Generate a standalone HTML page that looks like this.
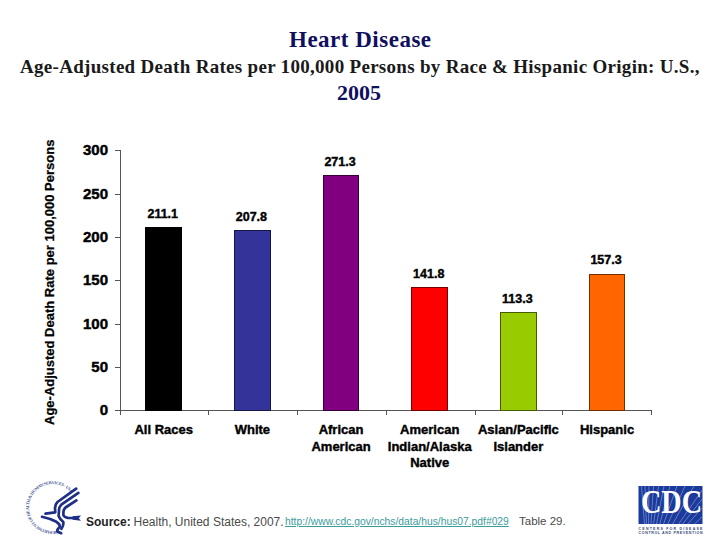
<!DOCTYPE html>
<html>
<head>
<meta charset="utf-8">
<style>
html,body{margin:0;padding:0;background:#fff;}
body{width:720px;height:540px;position:relative;overflow:hidden;font-family:"Liberation Sans",sans-serif;}
.a{position:absolute;white-space:nowrap;}
.t1{font-family:"Liberation Serif",serif;font-weight:bold;color:#10105e;}
.sub{font-family:"Liberation Serif",serif;font-weight:bold;color:#1a1a1a;}
.yl{-webkit-text-stroke:0.45px #000;font-weight:bold;font-size:15px;line-height:18px;color:#000;text-align:right;width:40px;}
.vl{-webkit-text-stroke:0.4px #000;font-weight:bold;font-size:12.5px;line-height:14px;color:#000;text-align:center;width:80px;}
.xl{-webkit-text-stroke:0.4px #000;font-weight:bold;font-size:13px;color:#000;text-align:center;width:88px;line-height:16.5px;}
.bar{position:absolute;box-sizing:border-box;border:1px solid rgba(0,0,0,0.55);}
.ln{position:absolute;background:#555;}
.src{font-size:12px;color:#333;}
</style>
</head>
<body>
<div class="a t1" style="left:289px;top:27px;font-size:23px;line-height:26px;letter-spacing:0.5px;">Heart Disease</div>
<div class="a sub" style="left:20px;top:56px;font-size:19px;line-height:21px;letter-spacing:0.3px;">Age-Adjusted Death Rates per 100,000 Persons by Race &amp; Hispanic Origin: U.S.,</div>
<div class="a t1" style="left:337px;top:80px;font-size:22px;line-height:26px;">2005</div>
<div class="ln" style="left:120px;top:150px;width:1px;height:265px;"></div>
<div class="ln" style="left:120px;top:410px;width:531px;height:1px;"></div>
<div class="ln" style="left:115px;top:410.00px;width:5px;height:1px;"></div>
<div class="a yl" style="left:68px;top:401.00px;">0</div>
<div class="ln" style="left:115px;top:367.00px;width:5px;height:1px;"></div>
<div class="a yl" style="left:68px;top:358.00px;">50</div>
<div class="ln" style="left:115px;top:324.00px;width:5px;height:1px;"></div>
<div class="a yl" style="left:68px;top:315.00px;">100</div>
<div class="ln" style="left:115px;top:280.00px;width:5px;height:1px;"></div>
<div class="a yl" style="left:68px;top:271.00px;">150</div>
<div class="ln" style="left:115px;top:237.00px;width:5px;height:1px;"></div>
<div class="a yl" style="left:68px;top:228.00px;">200</div>
<div class="ln" style="left:115px;top:194.00px;width:5px;height:1px;"></div>
<div class="a yl" style="left:68px;top:185.00px;">250</div>
<div class="ln" style="left:115px;top:150.00px;width:5px;height:1px;"></div>
<div class="a yl" style="left:68px;top:141.00px;">300</div>
<div class="ln" style="left:120.00px;top:410px;width:1px;height:5px;"></div>
<div class="ln" style="left:208.00px;top:410px;width:1px;height:5px;"></div>
<div class="ln" style="left:297.00px;top:410px;width:1px;height:5px;"></div>
<div class="ln" style="left:386.00px;top:410px;width:1px;height:5px;"></div>
<div class="ln" style="left:475.00px;top:410px;width:1px;height:5px;"></div>
<div class="ln" style="left:562.00px;top:410px;width:1px;height:5px;"></div>
<div class="ln" style="left:651.00px;top:410px;width:1px;height:5px;"></div>
<div class="bar" style="left:145.40px;top:227.05px;width:36.7px;height:183.95px;background:#000000;"></div>
<div class="a vl" style="left:122.75px;top:206.75px;">211.1</div>
<div class="a xl" style="left:119.75px;top:422px;">All Races</div>
<div class="bar" style="left:234.06px;top:229.91px;width:36.7px;height:181.09px;background:#333399;"></div>
<div class="a vl" style="left:211.41px;top:209.61px;">207.8</div>
<div class="a xl" style="left:208.41px;top:422px;">White</div>
<div class="bar" style="left:322.72px;top:174.87px;width:36.7px;height:236.13px;background:#800080;"></div>
<div class="a vl" style="left:300.07px;top:154.57px;">271.3</div>
<div class="a xl" style="left:297.07px;top:422px;">African<br>American</div>
<div class="bar" style="left:411.38px;top:287.11px;width:36.7px;height:123.89px;background:#FF0000;"></div>
<div class="a vl" style="left:388.73px;top:266.81px;">141.8</div>
<div class="a xl" style="left:385.73px;top:422px;">American<br>Indian/Alaska<br>Native</div>
<div class="bar" style="left:500.04px;top:311.81px;width:36.7px;height:99.19px;background:#99CC00;"></div>
<div class="a vl" style="left:477.39px;top:291.51px;">113.3</div>
<div class="a xl" style="left:474.39px;top:422px;">Asian/Pacific<br>Islander</div>
<div class="bar" style="left:588.70px;top:273.67px;width:36.7px;height:137.33px;background:#FF6600;"></div>
<div class="a vl" style="left:566.05px;top:253.37px;">157.3</div>
<div class="a xl" style="left:563.05px;top:422px;">Hispanic</div>
<svg class="a" style="left:0;top:0;" width="720" height="540" viewBox="0 0 720 540">
<defs>
<path id="ring" d="M57.8,530.4 A23.5 23.5 0 1 1 70.5,492.4"/>
<clipPath id="cdcclip"><rect x="638.5" y="486" width="64" height="38"/></clipPath>
</defs>
<text font-family="Liberation Serif" font-weight="bold" font-size="4.4" fill="#2a3a86" opacity="0.85"><textPath href="#ring" textLength="100" lengthAdjust="spacing">DEPARTMENT OF HEALTH &amp; HUMAN SERVICES &#183; USA</textPath></text>
<g fill="none" stroke="#1f2f86" stroke-width="2.7" stroke-linecap="round" stroke-linejoin="round">
<path d="M76.2,488.6 L57.5,502 Q55,504.5 55,508 L55.3,512.3 L45.5,513.6"/>
<path d="M78.4,492.9 L61.3,504.6 Q59,507 59,510.5 L58.6,516 Q59.8,519.2 63.3,522 Q63.8,525.5 61.5,528.8"/>
<path d="M76.4,500.4 L65.5,507.5 Q63.4,509.5 63.4,512 L63.4,515.3 Q64.4,517.5 68,517.8 L74,518"/>
<path d="M42,516.8 Q50,518.5 56.4,521.8 Q60.3,524.3 59.8,526.8 Q57,529.3 57.2,531.5 L61.2,533.2"/>
</g>
<path d="M72.5,516.2 L81,515.6 L78.8,518.2 L81,520.8 L72.5,519.8 Z" fill="#1f2f86"/>
<rect x="638.5" y="486" width="64" height="38" fill="#1c3a9a"/>
<g clip-path="url(#cdcclip)" stroke="#86a2e2" stroke-width="0.65">
<line x1="648" y1="568" x2="641.5" y2="486"/>
<line x1="648" y1="568" x2="645" y2="486"/>
<line x1="648" y1="568" x2="649" y2="486"/>
<line x1="648" y1="568" x2="653.5" y2="486"/>
<line x1="648" y1="568" x2="658.5" y2="486"/>
<line x1="648" y1="568" x2="664" y2="486"/>
<line x1="648" y1="568" x2="670" y2="486"/>
<line x1="648" y1="568" x2="677" y2="486"/>
<line x1="648" y1="568" x2="685" y2="486"/>
<line x1="648" y1="568" x2="694" y2="486"/>
<line x1="648" y1="568" x2="703" y2="489"/>
<line x1="648" y1="568" x2="703" y2="498"/>
<line x1="648" y1="568" x2="703" y2="507"/>
<line x1="648" y1="568" x2="703" y2="516"/>
</g>
<text x="641" y="512.8" font-family="Liberation Serif" font-weight="bold" font-size="33" fill="#fff" textLength="61" lengthAdjust="spacingAndGlyphs">CDC</text>
<text x="638.5" y="529.6" font-family="Liberation Sans" font-weight="bold" font-size="3.6" fill="#3c4a7a" textLength="64" lengthAdjust="spacing">CENTERS FOR DISEASE</text>
<text x="638.5" y="534" font-family="Liberation Sans" font-weight="bold" font-size="3.6" fill="#3c4a7a" textLength="64" lengthAdjust="spacing">CONTROL AND PREVENTION</text>
</svg>
<div class="a" style="left:42px;top:425px;transform-origin:0 0;transform:rotate(-90deg);-webkit-text-stroke:0.25px #000;font-weight:bold;font-size:13px;line-height:16px;color:#000;">Age-Adjusted Death Rate per 100,000 Persons</div>
<div class="a src" style="left:86px;top:514.5px;line-height:14px;color:#222;font-weight:bold;">Source:</div>
<div class="a src" style="left:133.5px;top:514.5px;line-height:14px;color:#4a4a4a;">Health, United States, 2007.</div>
<div class="a" style="left:285px;top:515.5px;font-size:10.3px;line-height:12px;color:#3a9c9c;text-decoration:underline;">http://www.cdc.gov/nchs/data/hus/hus07.pdf#029</div>
<div class="a src" style="left:519px;top:514px;font-size:11.5px;line-height:14px;color:#4a4a4a;">Table 29.</div>
</body>
</html>
